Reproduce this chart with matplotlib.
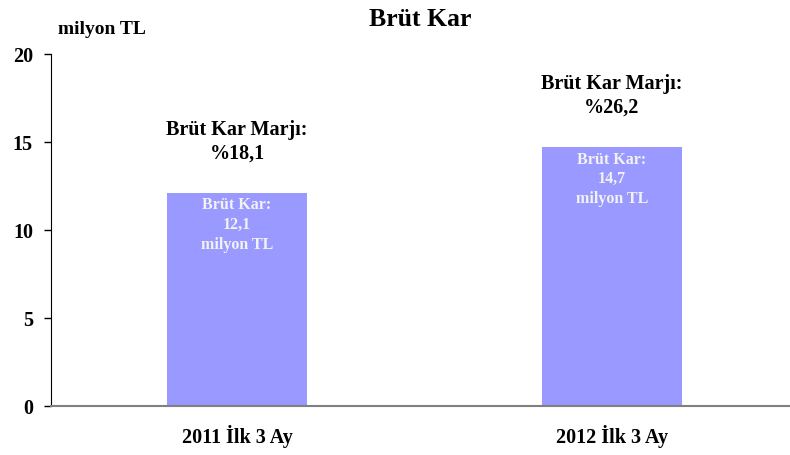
import matplotlib
matplotlib.use("Agg")
import matplotlib.pyplot as plt

categories = ["2011 İlk 3 Ay", "2012 İlk 3 Ay"]
values = [12.1, 14.7]
value_labels = ["12,1", "14,7"]
margins = ["%18,1", "%26,2"]
yticks = [0, 5, 10, 15, 20]

plt.rcParams['font.family'] = ['Liberation Serif', 'DejaVu Serif']

fig = plt.figure(figsize=(7.9, 4.55), dpi=100)
ax = fig.add_axes([51/790, 49/455, 1 - 51/790, (406-54)/455])

x = list(range(len(categories)))
ax.bar(x, values, width=0.373, color='#9999FF', zorder=2)
ax.set_xlim(-0.496, 1.475)
ax.set_ylim(0, 20)
ax.set_yticks(yticks)
ax.set_yticklabels([str(t) for t in yticks], fontsize=14.5, fontweight='bold')
ax.set_xticks(x)
ax.set_xticklabels(categories, fontsize=14.5, fontweight='bold')
ax.tick_params(axis='x', length=0, pad=14)
ax.tick_params(axis='y', length=5, width=1, direction='out', pad=8)
for s in ['top', 'right']:
    ax.spines[s].set_visible(False)
ax.spines['left'].set_color('black')
ax.spines['bottom'].set_color('#808080')
ax.spines['bottom'].set_linewidth(1.5)

for i, v in enumerate(values):
    ax.text(i, v - 0.25, "Brüt Kar:\n" + value_labels[i] + "\nmilyon TL",
            ha='center', va='top', color='#F2F2F2', fontsize=11.5,
            fontweight='bold', linespacing=1.3, zorder=3)
    ax.text(i, v + 1.7, "Brüt Kar Marjı:\n" + margins[i], ha='center',
            va='bottom', fontsize=14.5, fontweight='bold', linespacing=1.2)

fig.text(420/790, 1 - 19/455, "Brüt Kar", ha='center', va='center',
         fontsize=18.5, fontweight='bold')
fig.text(58/790, 1 - 29/455, "milyon TL", ha='left', va='center',
         fontsize=14, fontweight='bold')

fig.savefig("out.png", dpi=100)
